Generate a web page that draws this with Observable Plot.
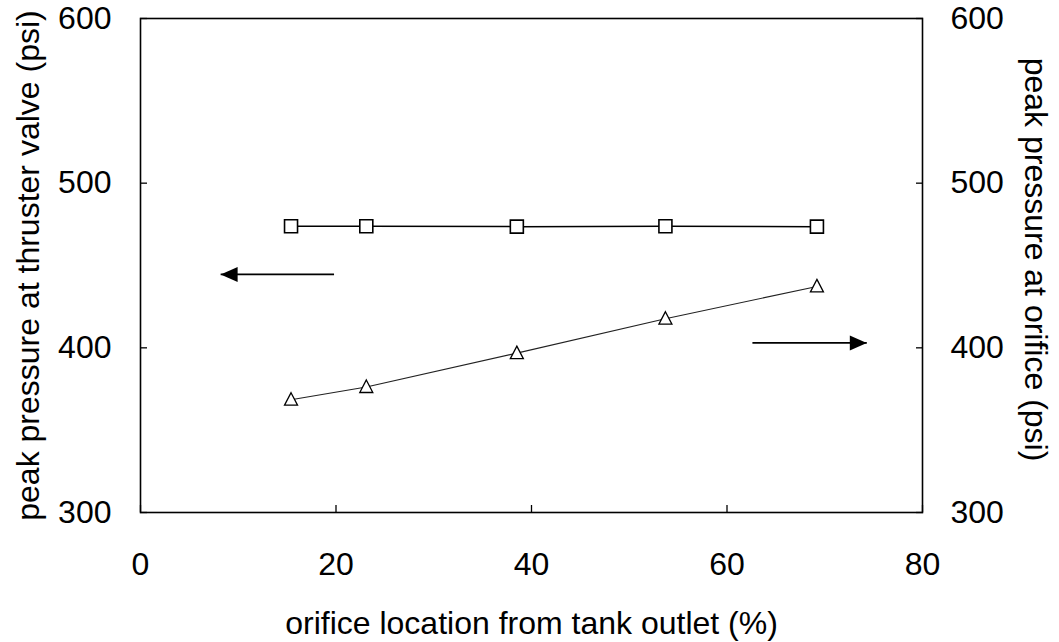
<!DOCTYPE html>
<html><head><meta charset="utf-8">
<script src="https://cdn.jsdelivr.net/npm/d3@7"></script>
<script src="https://cdn.jsdelivr.net/npm/@observablehq/plot@0.6"></script>
<style>body{margin:0;background:#fff}</style>
</head><body><div id="chart"></div>
<script>
// orifice location from tank outlet (%)
const locationPct = [15.4, 23.1, 38.5, 53.7, 69.2];
// peak pressure at thruster valve (psi) — left axis, squares
const valvePressure = [473.8, 473.8, 473.6, 473.8, 473.6];
// peak pressure at orifice (psi) — right axis, triangles
const orificePressure = [368.5, 376.2, 396.8, 417.7, 437.3];
const xTicks = [0, 20, 40, 60, 80];
const yTicks = [300, 400, 500, 600];
// annotation arrows (data coordinates): from -> to
const arrowFromX = [19.8, 62.6];
const arrowToX = [8.2, 74.3];
const arrowY = [444.6, 403];
const arrowDir = ["left", "right"];

const valveData = locationPct.map((x, i) => ({x, y: valvePressure[i]}));
const orificeData = locationPct.map((x, i) => ({x, y: orificePressure[i]}));
const arrows = arrowFromX.map((x1, i) => ({x1, x2: arrowToX[i], y: arrowY[i], dir: arrowDir[i]}));

const squareSym = {draw(c) { c.moveTo(-6.5,-6.5); c.lineTo(6.5,-6.5); c.lineTo(6.5,6.5); c.lineTo(-6.5,6.5); c.closePath(); }};
const triSym = {draw(c) { c.moveTo(0,-7); c.lineTo(6.5,5.5); c.lineTo(-6.5,5.5); c.closePath(); }};
const headLeft = {draw(c) { c.moveTo(0,0); c.lineTo(17,-7.5); c.lineTo(17,7.5); c.closePath(); }};
const headRight = {draw(c) { c.moveTo(0,0); c.lineTo(-17,-7.5); c.lineTo(-17,7.5); c.closePath(); }};

const FONT = "'Liberation Sans', Arial, Helvetica, sans-serif";

const chart = Plot.plot({
  width: 1059,
  height: 642,
  marginLeft: 140,
  marginRight: 137,
  marginTop: 18,
  marginBottom: 130,
  style: {fontFamily: FONT, fontSize: "32px", color: "#000", background: "#fff"},
  x: {domain: [0, 80]},
  y: {domain: [300, 600]},
  marks: [
    Plot.axisX({ticks: xTicks, tickSize: -7, tickPadding: 47, label: null, tickFormat: d3.format("d"), fontSize: 32, strokeWidth: 1.3}),
    Plot.axisY({anchor: "left", ticks: yTicks, tickSize: -7, tickPadding: 36, label: null, tickFormat: d3.format("d"), fontSize: 32, strokeWidth: 1.3}),
    Plot.axisY({anchor: "right", ticks: yTicks, tickSize: -7, tickPadding: 35, label: null, tickFormat: d3.format("d"), fontSize: 32, strokeWidth: 1.3}),
    Plot.frame({stroke: "#000", strokeWidth: 1.6}),
    Plot.line(valveData, {x: "x", y: "y", stroke: "#000", strokeWidth: 1.5}),
    Plot.dot(valveData, {x: "x", y: "y", symbol: squareSym, r: 7, stroke: "#000", strokeWidth: 1.6, fill: "#fff"}),
    Plot.line(orificeData, {x: "x", y: "y", stroke: "#222", strokeWidth: 1.1}),
    Plot.dot(orificeData, {x: "x", y: "y", symbol: triSym, r: 7, stroke: "#000", strokeWidth: 1.3, fill: "#fff"}),
    Plot.link(arrows, {x1: "x1", x2: "x2", y1: "y", y2: "y", stroke: "#000", strokeWidth: 1.8}),
    Plot.dot(arrows.filter(d => d.dir === "left"), {x: "x2", y: "y", symbol: headLeft, r: 8, fill: "#000", stroke: "none"}),
    Plot.dot(arrows.filter(d => d.dir === "right"), {x: "x2", y: "y", symbol: headRight, r: 8, fill: "#000", stroke: "none"}),
    Plot.text(["orifice location from tank outlet (%)"], {frameAnchor: "bottom", dy: 111, fontSize: 32, textAnchor: "middle", lineAnchor: "middle", fill: "#000"}),
    Plot.text(["peak pressure at thruster valve (psi)"], {frameAnchor: "left", dx: -112, rotate: -90, fontSize: 32, textAnchor: "middle", lineAnchor: "middle", fill: "#000"}),
    Plot.text(["peak pressure at orifice (psi)"], {frameAnchor: "right", dx: 113, dy: -6, rotate: 90, fontSize: 32, textAnchor: "middle", lineAnchor: "middle", fill: "#000"})
  ]
});
document.getElementById("chart").appendChild(chart);
</script>
</body></html>
